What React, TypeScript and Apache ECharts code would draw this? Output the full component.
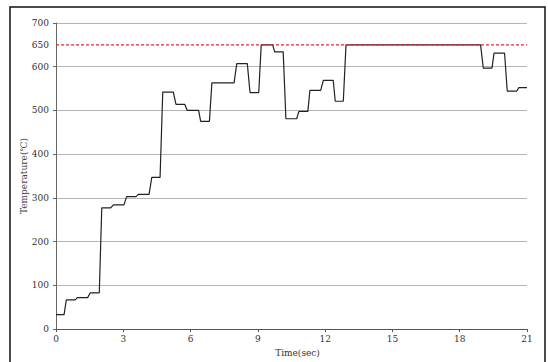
import React, { useEffect, useRef } from "react";
import * as echarts from "echarts";

const times: number[] = [
  0, 0.36, 0.46, 0.86, 0.95, 1.41, 1.53, 1.93,
  2.04, 2.44, 2.56, 3.03, 3.15, 3.57, 3.67, 4.15, 4.27, 4.64,
  4.76, 5.23, 5.35, 5.74, 5.85, 6.36, 6.45, 6.84, 6.95, 7.94,
  8.06, 8.53, 8.65, 9.04, 9.15, 9.66, 9.75, 10.13, 10.25, 10.73,
  10.83, 11.23, 11.32, 11.8, 11.92, 12.36, 12.45, 12.81, 12.93, 18.93,
  19.05, 19.44, 19.53, 20.0, 20.12, 20.54, 20.63, 21,
];
const temps: number[] = [
  33, 33, 67, 67, 72, 72, 83, 83,
  277, 277, 284, 284, 303, 303, 308, 308, 347, 347,
  542, 542, 514, 514, 500, 500, 475, 475, 563, 563,
  607, 607, 541, 541, 650, 650, 634, 634, 481, 481,
  498, 498, 546, 546, 569, 569, 521, 521, 650, 650,
  597, 597, 631, 631, 544, 544, 552, 552,
];
const limitValue = 650;
const xMin = 0;
const xMax = 21;
const xName = "Time(sec)";
const yName = "Temperature(℃)";

export default function App() {
  const ref = useRef<HTMLDivElement>(null);
  useEffect(() => {
    if (!ref.current) return;
    const chart = echarts.init(ref.current, undefined, { renderer: "svg" });
    const font = "'DejaVu Serif', 'Liberation Serif', serif";
    chart.setOption({
      animation: false,
      backgroundColor: "#ffffff",
      textStyle: { fontFamily: font },
      graphic: [
        {
          type: "rect",
          shape: { x: 10, y: 7, width: 535, height: 370 },
          style: { fill: "none", stroke: "#111", lineWidth: 1.5 },
          silent: true,
        },
      ],
      grid: { left: 56, right: 21, top: 23, bottom: 29 },
      xAxis: {
        type: "value",
        min: xMin,
        max: xMax,
        interval: 3,
        name: xName,
        nameLocation: "middle",
        nameGap: 14,
        nameTextStyle: { fontFamily: font, fontSize: 9, color: "#333", padding: [0, 0, 0, 12] },
        axisLine: { show: true, lineStyle: { color: "#555", width: 1 } },
        axisTick: { show: true, length: 3, lineStyle: { color: "#555" } },
        axisLabel: { fontFamily: font, fontSize: 9, color: "#333", margin: 5 },
        splitLine: { show: false },
      },
      yAxis: [
        {
          type: "value",
          min: 0,
          max: 700,
          interval: 100,
          name: yName,
          nameLocation: "middle",
          nameGap: 28,
          nameMoveOverlap: false,
          nameTextStyle: { fontFamily: font, fontSize: 9, color: "#444" },
          axisLine: { show: true, lineStyle: { color: "#666", width: 1 } },
          axisTick: { show: true, length: 3, lineStyle: { color: "#666" } },
          axisLabel: { fontFamily: font, fontSize: 9, color: "#333", margin: 7 },
          splitLine: { show: true, lineStyle: { color: "#b5b5b5", width: 1 } },
        },
        {
          type: "value",
          position: "left",
          min: 0,
          max: 700,
          interval: 50,
          axisLine: { show: false },
          axisTick: { show: false },
          splitLine: { show: false },
          axisLabel: {
            fontFamily: font,
            fontSize: 9,
            color: "#333",
            margin: 7,
            formatter: (v: number) => (v === limitValue ? String(v) : ""),
          },
        },
      ],
      series: [
        {
          type: "line",
          data: times.map((t, i) => [t, temps[i]]),
          showSymbol: false,
          symbol: "none",
          color: "#222",
          lineStyle: { color: "#222", width: 1.2 },
          z: 2,
        },
        {
          type: "line",
          data: [
            [xMin, limitValue],
            [xMax, limitValue],
          ],
          showSymbol: false,
          symbol: "none",
          color: "#e02828",
          lineStyle: { color: "#e02828", type: [3, 2], width: 1.2 },
          z: 5,
        },
      ],
    });
    return () => chart.dispose();
  }, []);
  return (
    <div
      ref={ref}
      style={{ position: "fixed", left: 0, top: 0, width: 548, height: 362 }}
    />
  );
}
